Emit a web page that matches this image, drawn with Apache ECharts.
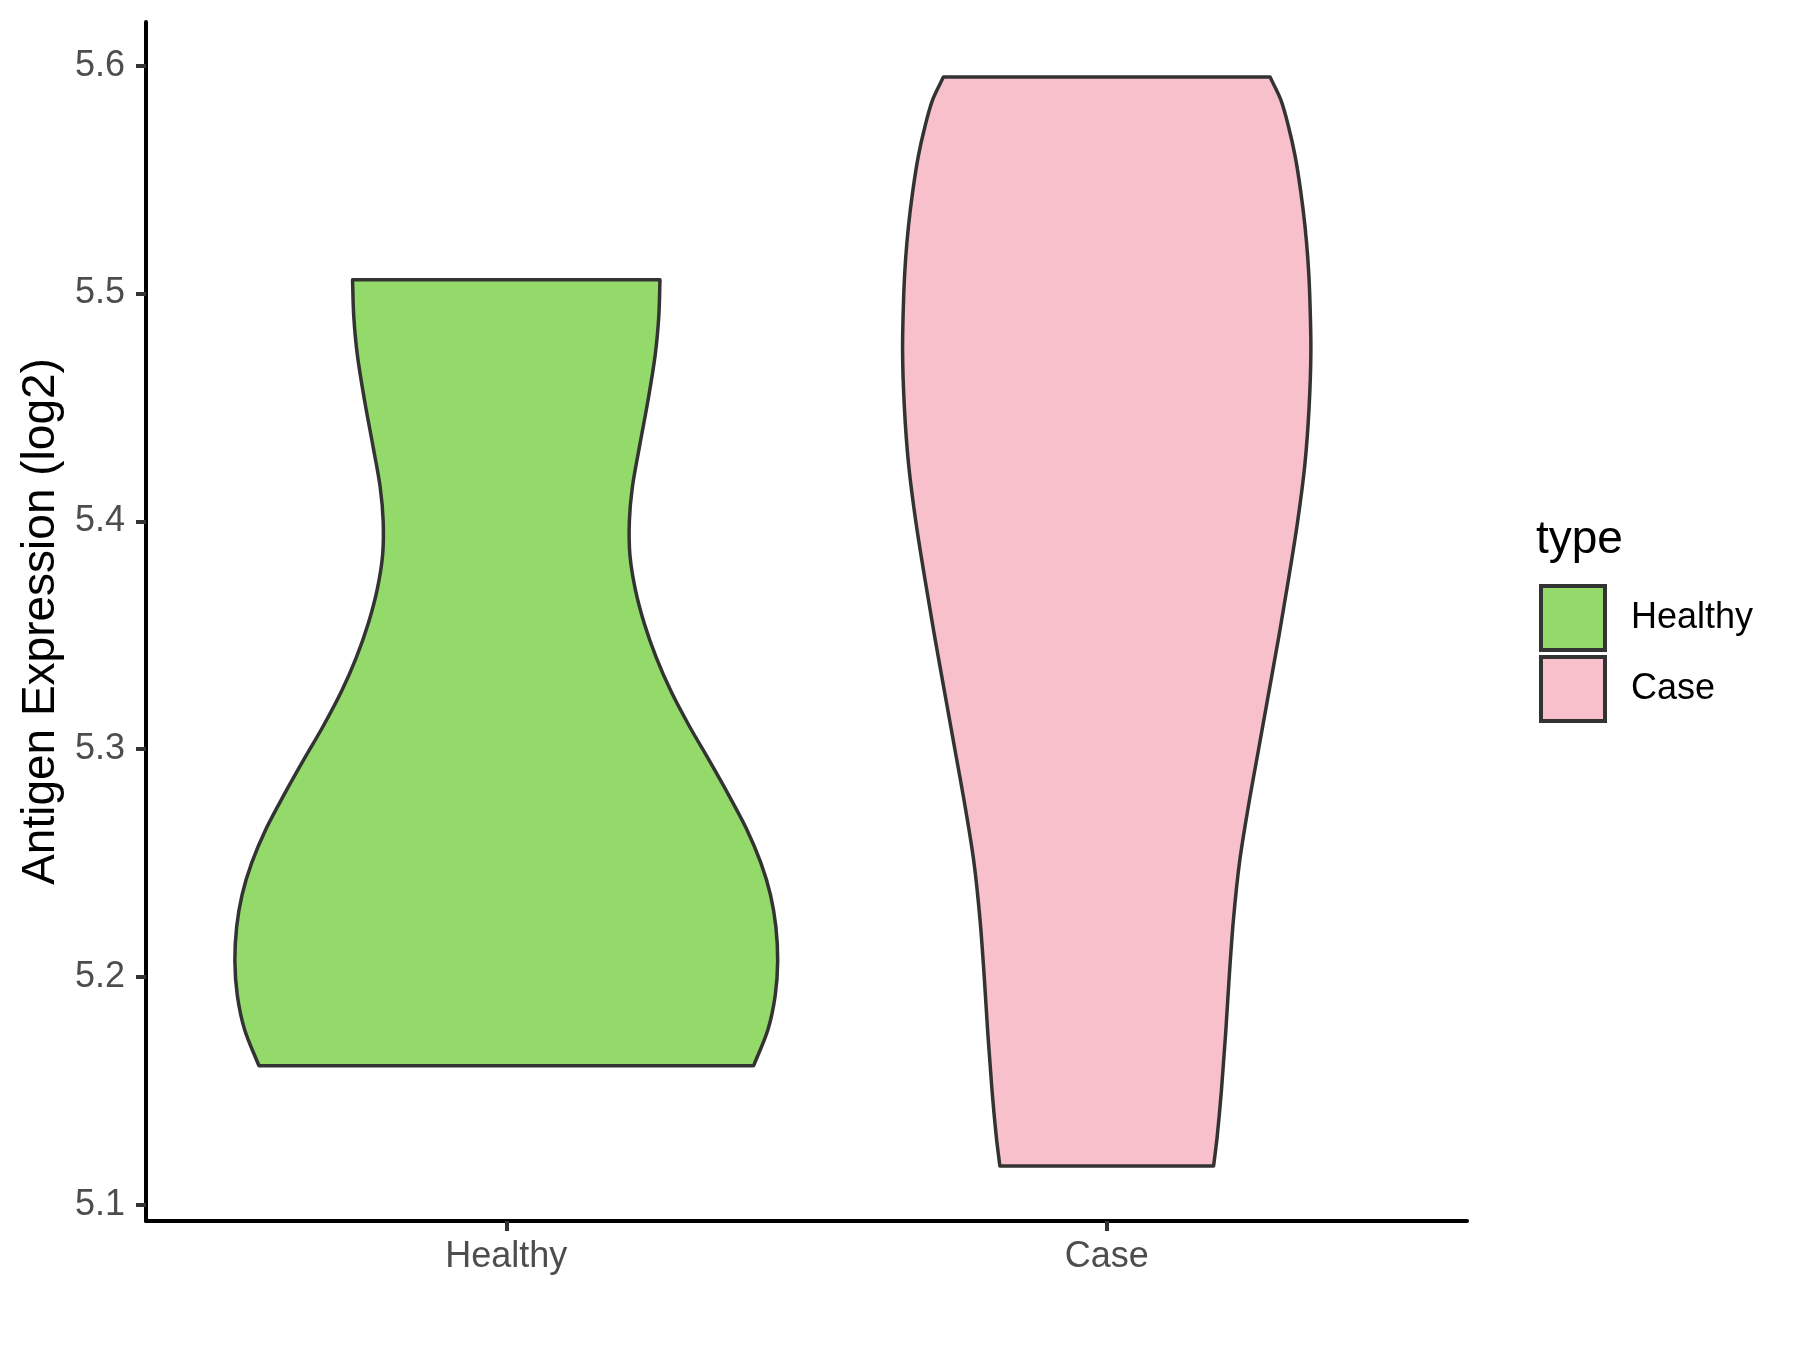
<!DOCTYPE html>
<html>
<head>
<meta charset="utf-8">
<script src="https://cdn.jsdelivr.net/npm/echarts@6/dist/echarts.min.js"></script>
<style>html,body{margin:0;padding:0;background:#fff;}#c{width:1800px;height:1350px;}</style>
</head>
<body>
<div id="c"></div>
<script>
// Categories and tick labels
var categories = ['Healthy', 'Case'];
var yTicks = [5.1, 5.2, 5.3, 5.4, 5.5, 5.6];

// Violin profiles: expression value (log2) and half-width (category units)
var healthyY = [5.161, 5.177, 5.192, 5.207, 5.222, 5.236, 5.250, 5.265, 5.280, 5.295, 5.310, 5.325, 5.340, 5.355, 5.370, 5.385, 5.400, 5.415, 5.433, 5.453, 5.473, 5.490, 5.506];
var healthyW = [0.412, 0.436, 0.448, 0.452, 0.449, 0.440, 0.424, 0.400, 0.370, 0.338, 0.305, 0.275, 0.250, 0.230, 0.215, 0.206, 0.205, 0.210, 0.222, 0.236, 0.248, 0.254, 0.256];
var caseY = [5.117, 5.130, 5.150, 5.175, 5.200, 5.225, 5.250, 5.275, 5.300, 5.325, 5.350, 5.375, 5.400, 5.425, 5.450, 5.475, 5.500, 5.515, 5.530, 5.545, 5.560, 5.573, 5.585, 5.595];
var caseW = [0.178, 0.184, 0.191, 0.198, 0.204, 0.211, 0.221, 0.236, 0.253, 0.270, 0.287, 0.303, 0.318, 0.330, 0.337, 0.340, 0.338, 0.335, 0.330, 0.323, 0.314, 0.303, 0.290, 0.272];

var profiles = [
  {y: healthyY, w: healthyW},
  {y: caseY, w: caseW}
];
var colors = ['#93DA6A', '#F8C0CB'];
var FONT = '"Liberation Sans", Arial, sans-serif';

// Cubic Hermite through pixel points, treating x as a function of y
function hermiteSegments(pts) {
  var n = pts.length, m = [];
  for (var i = 0; i < n; i++) {
    var a = pts[Math.max(i - 1, 0)], b = pts[Math.min(i + 1, n - 1)];
    m.push((b[0] - a[0]) / (b[1] - a[1]));
  }
  var d = '';
  for (var k = 0; k < n - 1; k++) {
    var p1 = pts[k], p2 = pts[k + 1], dy = p2[1] - p1[1];
    var c1 = [p1[0] + m[k] * dy / 3, p1[1] + dy / 3];
    var c2 = [p2[0] - m[k + 1] * dy / 3, p2[1] - dy / 3];
    d += ' C' + c1[0] + ',' + c1[1] + ' ' + c2[0] + ',' + c2[1] + ' ' + p2[0] + ',' + p2[1];
  }
  return d;
}

function makeRender(gi) {
  return function (params, api) {
    var prof = profiles[gi];
    var cx = gi + 1;
    var left = [], right = [];
    for (var i = 0; i < prof.y.length; i++) {
      left.push(api.coord([cx - prof.w[i], prof.y[i]]));
    }
    for (var j = prof.y.length - 1; j >= 0; j--) {
      right.push(api.coord([cx + prof.w[j], prof.y[j]]));
    }
    var d = 'M' + left[0][0] + ',' + left[0][1] + hermiteSegments(left) +
      ' L' + right[0][0] + ',' + right[0][1] + hermiteSegments(right) + ' Z';
    return {
      type: 'path',
      shape: {pathData: d},
      style: {fill: colors[gi], stroke: '#333333', lineWidth: 3.5, lineJoin: 'round'}
    };
  };
}

var chart = echarts.init(document.getElementById('c'));
chart.setOption({
  animation: false,
  backgroundColor: '#ffffff',
  grid: {left: 146, right: 333, top: 22, bottom: 129},
  title: {
    text: 'type', left: 1536, top: 517, padding: 0,
    textStyle: {fontSize: 46, fontWeight: 'normal', color: '#000', fontFamily: FONT}
  },
  legend: {
    orient: 'vertical', left: 1539, top: 584, padding: 0,
    itemWidth: 64, itemHeight: 64, itemGap: 3,
    icon: 'rect',
    textStyle: {fontSize: 36, color: '#000', fontFamily: FONT, padding: [0, 0, 0, 21]},
    data: categories.map(function (c, i) {
      return {name: c, icon: 'rect', itemStyle: {color: colors[i], borderColor: '#333333', borderWidth: 4}};
    })
  },
  xAxis: {
    type: 'value', min: 0.4, max: 2.6,
    splitLine: {show: false},
    axisLine: {show: true, lineStyle: {color: '#000', width: 4}},
    axisTick: {show: true, customValues: [1, 2], length: 10, lineStyle: {color: '#333333', width: 4}},
    axisLabel: {
      customValues: [1, 2], margin: 18, fontSize: 36, color: '#4D4D4D', fontFamily: FONT,
      formatter: function (v) { return categories[Math.round(v) - 1]; }
    }
  },
  yAxis: {
    type: 'value', min: 5.0928, max: 5.6192,
    name: 'Antigen Expression (log2)', nameLocation: 'middle', nameGap: 80,
    nameTextStyle: {fontSize: 46, color: '#000', fontFamily: FONT},
    splitLine: {show: false},
    axisLine: {show: true, lineStyle: {color: '#000', width: 4}},
    axisTick: {show: true, customValues: yTicks, length: 10, lineStyle: {color: '#333333', width: 4}},
    axisLabel: {
      customValues: yTicks, margin: 21, fontSize: 36, color: '#4D4D4D', fontFamily: FONT,
      formatter: function (v) { return v.toFixed(1); }
    }
  },
  series: categories.map(function (c, i) {
    return {
      name: c, type: 'custom', renderItem: makeRender(i),
      itemStyle: {color: colors[i], borderColor: '#333333', borderWidth: 4},
      data: [[i + 1, profiles[i].y[0]]],
      silent: true
    };
  })
});
</script>
</body>
</html>
